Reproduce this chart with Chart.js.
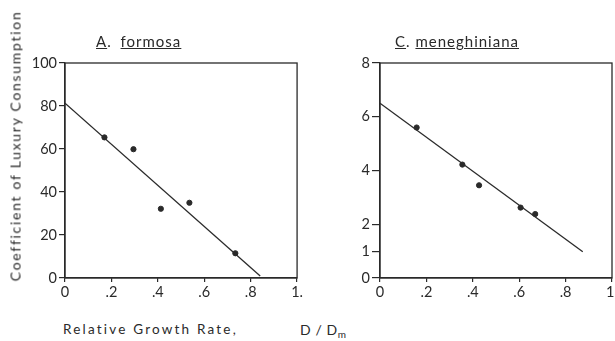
<!DOCTYPE html>
<html>
<head>
<meta charset="utf-8">
<script src="https://cdn.jsdelivr.net/npm/chart.js@4"></script>
<style>
  html, body { margin:0; padding:0; background:#fff; width:615px; height:341px; overflow:hidden; position:relative; font-family: Lato, "DejaVu Sans", sans-serif; color:#2a2a2a; }
  .cv { position:absolute; top:0; }
  #c1 { left:0; width:305px; height:310px; }
  #c2 { left:310px; width:320px; height:310px; }
  .ptitle { position:absolute; font-size:15px; letter-spacing:1px; white-space:nowrap; }
  #t1 { left:96px; top:32px; word-spacing:4px; }
  #t2 { left:395px; top:32px; }
  #ytitle { position:absolute; left:15px; top:146px; transform: translate(-50%,-50%) rotate(-90deg); font-size:14px; letter-spacing:1.7px; white-space:nowrap; }
  #xtitle { position:absolute; left:63px; top:321px; font-size:13.5px; letter-spacing:2.2px; white-space:nowrap; }
  #xtitle2 { position:absolute; left:300px; top:321px; font-size:14px; letter-spacing:0.6px; white-space:nowrap; }
  sub { font-size:10px; vertical-align:-3px; }
</style>
</head>
<body>
<div class="cv" id="c1"><canvas id="chart1"></canvas></div>
<div class="cv" id="c2"><canvas id="chart2"></canvas></div>
<div class="ptitle" id="t1"><u>A</u>. <u>formosa</u></div>
<div class="ptitle" id="t2"><u>C</u>. <u>meneghiniana</u></div>
<div id="ytitle">Coefficient of Luxury Consumption</div>
<div id="xtitle">Relative Growth Rate,</div>
<div id="xtitle2">D / D<sub>m</sub></div>
<script>
// ---- data ----
const formosaX = [0.17, 0.295, 0.413, 0.536, 0.734];
const formosaY = [65.4, 59.9, 32.2, 35.0, 11.5];
const formosaFitX = [0, 0.841];
const formosaFitY = [81.3, 0.9];

const meneghX = [0.158, 0.355, 0.427, 0.606, 0.669];
const meneghY = [5.6, 4.22, 3.45, 2.62, 2.38];
const meneghFitX = [0, 0.874];
const meneghFitY = [6.5, 0.98];

const xTicks = [0, 0.2, 0.4, 0.6, 0.8, 1];
const xTickLabels = ["0", ".2", ".4", ".6", ".8", "1."];
const formosaYTicks = [0, 20, 40, 60, 80, 100];
const meneghYTicks = [0, 1, 2, 4, 6, 8];

const INK = '#2a2a2a';
const FONT = { family: 'Lato, "DejaVu Sans", sans-serif', size: 14.5 };

const frame = {
  id: 'frame',
  afterDatasetsDraw(chart) {
    const a = chart.chartArea, c = chart.ctx;
    c.save(); c.strokeStyle = INK; c.lineWidth = 1.3;
    c.strokeRect(a.left, a.top, a.right - a.left, a.bottom - a.top);
    c.restore();
  }
};

function pts(xs, ys) { return xs.map((x, i) => ({ x: x, y: ys[i] })); }

function makeChart(id, xs, ys, fx, fy, yTicks, yMax, yWidth, pad, yTickLen) {
  return new Chart(document.getElementById(id), {
    type: 'scatter',
    data: {
      datasets: [
        { data: pts(xs, ys), backgroundColor: INK, borderColor: INK, pointRadius: 2.6, pointHoverRadius: 2.6 },
        { data: pts(fx, fy), showLine: true, borderColor: INK, borderWidth: 1.3, pointRadius: 0, fill: false }
      ]
    },
    options: {
      responsive: true, maintainAspectRatio: false, animation: false,
      layout: { padding: pad },
      plugins: { legend: { display: false }, tooltip: { enabled: false } },
      scales: {
        x: {
          type: 'linear', min: 0, max: 1,
          afterBuildTicks: s => { s.ticks = xTicks.map(v => ({ value: v })); },
          afterFit: s => { s.height = 32; },
          ticks: { color: INK, font: FONT, padding: 2, maxRotation: 0, autoSkip: false,
                   callback: (v) => xTickLabels[xTicks.indexOf(v)] },
          grid: { drawOnChartArea: false, drawTicks: true, tickLength: 4, color: INK, lineWidth: 1.2 },
          border: { display: true, color: INK, width: 1.3 }
        },
        y: {
          type: 'linear', min: 0, max: yMax,
          afterBuildTicks: s => { s.ticks = yTicks.map(v => ({ value: v })); },
          afterFit: s => { s.width = yWidth; },
          ticks: { color: INK, font: FONT, padding: 2, autoSkip: false, callback: v => String(v) },
          grid: { drawOnChartArea: false, drawTicks: true, tickLength: yTickLen, color: INK, lineWidth: 1.2 },
          border: { display: true, color: INK, width: 1.3 }
        }
      }
    },
    plugins: [frame]
  });
}

makeChart('chart1', formosaX, formosaY, formosaFitX, formosaFitY, formosaYTicks, 100, 65,
  { top: 63, right: 7, bottom: 0, left: 0 }, 6);
makeChart('chart2', meneghX, meneghY, meneghFitX, meneghFitY, meneghYTicks, 8, 70,
  { top: 63, right: 18, bottom: 0, left: 0 }, 8);
</script>
</body>
</html>
